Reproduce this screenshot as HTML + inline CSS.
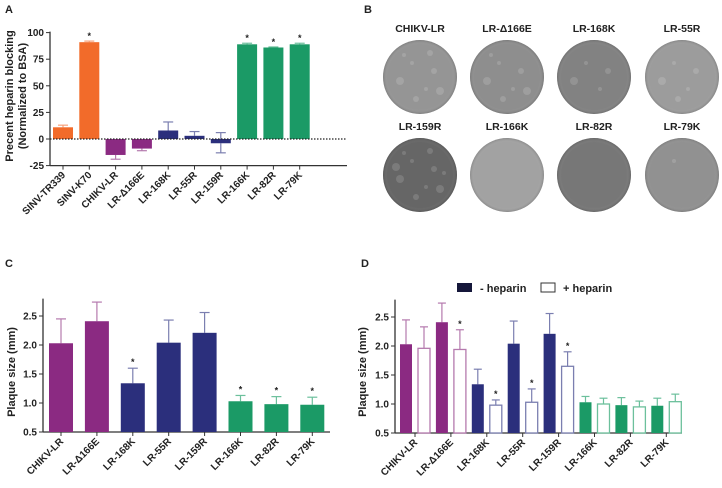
<!DOCTYPE html>
<html><head><meta charset="utf-8"><style>
body{margin:0;background:#fff;width:722px;height:483px;overflow:hidden;font-family:"Liberation Sans",sans-serif}
svg text{font-family:"Liberation Sans","DejaVu Sans",sans-serif;font-weight:bold;fill:#222}
</style></head><body>
<svg id="fig" width="722" height="483" viewBox="0 0 722 483">
<defs>
<radialGradient id="dish" cx="50%" cy="50%" r="50%"><stop offset="0.88" stop-color="#fff" stop-opacity="0"/><stop offset="1" stop-color="#000" stop-opacity="0.15"/></radialGradient>
</defs>
<text x="5" y="13" font-size="11">A</text>
<text x="364" y="13" font-size="11">B</text>
<text x="5" y="267" font-size="11">C</text>
<text x="361" y="267" font-size="11">D</text>
<g id="gA"></g>
<g id="gB"></g>
<g id="gC"></g>
<g id="gD"></g>
</svg>
<script>
const NS="http://www.w3.org/2000/svg";
const aCats=["SINV-TR339","SINV-K70","CHIKV-LR","LR-\u0394166E","LR-168K","LR-55R","LR-159R","LR-166K","LR-82R","LR-79K"];
const aVals=[11,91,-15,-9,8,3,-4,89,86,89];
const aErr=[2,1,4,2,8,4,9,1,0.5,1];
const aSig=[0,1,0,0,0,0,0,1,1,1];
const aTicks=[-25,0,25,50,75,100];
const cCats=["CHIKV-LR","LR-\u0394166E","LR-168K","LR-55R","LR-159R","LR-166K","LR-82R","LR-79K"];
const cVals=[2.03,2.41,1.34,2.04,2.21,1.03,0.98,0.97];
const cErr=[0.42,0.33,0.26,0.39,0.35,0.10,0.13,0.13];
const cSig=[0,0,1,0,0,1,1,1];
const dMinus=[2.03,2.41,1.34,2.04,2.21,1.03,0.98,0.97];
const dMinusErr=[0.42,0.33,0.26,0.39,0.35,0.10,0.13,0.13];
const dPlus=[1.96,1.94,0.98,1.03,1.65,1.00,0.95,1.04];
const dPlusErr=[0.37,0.34,0.09,0.23,0.25,0.10,0.10,0.13];
const dSig=[0,1,1,1,1,0,0,0];
const cTicks=[0.5,1.0,1.5,2.0,2.5];
const plaqueNames=["CHIKV-LR","LR-\u0394166E","LR-168K","LR-55R","LR-159R","LR-166K","LR-82R","LR-79K"];
const plaqueGray=["#959595","#8e8e8e","#828282","#9c9c9c","#666666","#a2a2a2","#777777","#919191"];
const plaqueSpot=[8,7,4,5,10,0,0,1];

const aColors=["#f26b2a","#f26b2a","#8b2a82","#8b2a82","#2b2f7c","#2b2f7c","#2b2f7c","#1b9a66","#1b9a66","#1b9a66"];
const cColors=["#8b2a82","#8b2a82","#2b2f7c","#2b2f7c","#2b2f7c","#1b9a66","#1b9a66","#1b9a66"];
function el(p,t,a){const e=document.createElementNS(NS,t);for(const k in a)e.setAttribute(k,a[k]);p.appendChild(e);return e;}
function lighten(c){return c==="#f26b2a"?"#f7a17a":c==="#8b2a82"?"#b57aae":c==="#2b2f7c"?"#7b7fb0":"#6cc09c";}

// Panel A
(function(){
 const g=document.getElementById("gA");
 const x0=50,x1=347,yS=v=>139-v*1.064;
 const xc=i=>63+i*26.3;
 el(g,"line",{x1:x0,y1:yS(100)-1,x2:x0,y2:yS(-25),stroke:"#333","stroke-width":1.3});
 el(g,"line",{x1:x0,y1:yS(-25),x2:x1,y2:yS(-25),stroke:"#333","stroke-width":1.3});
 aTicks.forEach(t=>{el(g,"line",{x1:x0-4,y1:yS(t),x2:x0,y2:yS(t),stroke:"#333"});
  const tx=el(g,"text",{x:x0-6,y:yS(t)+3.5,"font-size":10,"text-anchor":"end"});tx.textContent=t;
  
  });
 aVals.forEach((v,i)=>{
  const c=aColors[i],x=xc(i);
  const top=Math.min(yS(v),yS(0)),h=Math.abs(yS(v)-yS(0));
  const e=v>=0?v+aErr[i]:v-aErr[i];
  el(g,"line",{x1:x,y1:yS(v),x2:x,y2:yS(e),stroke:lighten(c),"stroke-width":1.2});
  el(g,"line",{x1:x-5,y1:yS(e),x2:x+5,y2:yS(e),stroke:lighten(c),"stroke-width":1.2});
  if(i===6){el(g,"line",{x1:x,y1:yS(0),x2:x,y2:yS(6),stroke:lighten(c),"stroke-width":1.2});el(g,"line",{x1:x-5,y1:yS(6),x2:x+5,y2:yS(6),stroke:lighten(c),"stroke-width":1.2});}
  const r=el(g,"rect",{x:x-10,y:top,width:20,height:h,fill:c});
  
  
  if(aSig[i]){const s=el(g,"text",{x:x,y:yS(v+aErr[i])-2,"font-size":9,"text-anchor":"middle"});s.textContent="*";}
  el(g,"line",{x1:x,y1:yS(-25),x2:x,y2:yS(-25)+4,stroke:"#333"});
  const l=el(g,"text",{x:x+3,y:yS(-25)+10,"font-size":10,"text-anchor":"end",transform:`rotate(-45 ${x+3} ${yS(-25)+10})`});l.textContent=aCats[i];
  
  
 });
 el(g,"line",{x1:x0,y1:yS(0),x2:x1,y2:yS(0),stroke:"#222","stroke-dasharray":"1.5,1.5","stroke-width":1.2});
 const yt=el(g,"text",{x:0,y:0,"font-size":11,"text-anchor":"middle",transform:"translate(13,96) rotate(-90)"});
 yt.innerHTML='<tspan x="0" dy="0">Precent heparin blocking</tspan><tspan x="0" dy="13">(Normalized to BSA)</tspan>';
 
 
})();

// Panel B
(function(){
 const g=document.getElementById("gB");
 const cx=[420,507,594,682],cy=[77,175],ly=[32,130];
 plaqueNames.forEach((n,i)=>{
  const x=cx[i%4],y=cy[Math.floor(i/4)];
  const t=el(g,"text",{x:x,y:ly[Math.floor(i/4)],"font-size":10.5,"text-anchor":"middle"});t.textContent=n;
  
  
  const c=el(g,"circle",{cx:x,cy:y,r:37,fill:plaqueGray[i]});
  
  
  const off=[[-8,-14],[14,-6],[-20,4],[6,12],[-4,22],[20,14],[-16,-22],[10,-24],[-24,-8],[24,-2]];
  for(let k=0;k<plaqueSpot[i];k++){el(g,"circle",{cx:x+off[k][0],cy:y+off[k][1],r:2+(k%3),fill:"#fff","fill-opacity":0.14});}
  el(g,"circle",{cx:x,cy:y,r:37,fill:"url(#dish)"});
 });
})();

function barAxes(g,x0,x1,yS,cats,xc){
 el(g,"line",{x1:x0,y1:yS(2.8),x2:x0,y2:yS(0.5),stroke:"#333","stroke-width":1.3});
 el(g,"line",{x1:x0,y1:yS(0.5),x2:x1,y2:yS(0.5),stroke:"#333","stroke-width":1.3});
 cTicks.forEach(t=>{el(g,"line",{x1:x0-4,y1:yS(t),x2:x0,y2:yS(t),stroke:"#333"});
  const tx=el(g,"text",{x:x0-6,y:yS(t)+3.5,"font-size":10,"text-anchor":"end"});tx.textContent=t.toFixed(1);
  
  });
 cats.forEach((n,i)=>{const x=xc(i);
  el(g,"line",{x1:x,y1:yS(0.5),x2:x,y2:yS(0.5)+4,stroke:"#333"});
  const l=el(g,"text",{x:x+3,y:yS(0.5)+10,"font-size":10,"text-anchor":"end",transform:`rotate(-45 ${x+3} ${yS(0.5)+10})`});l.textContent=n;
  
  });
}
function errBar(g,x,v,e,yS,c,w){
 el(g,"line",{x1:x,y1:yS(v),x2:x,y2:yS(v+e),stroke:c,"stroke-width":1.2});
 el(g,"line",{x1:x-w,y1:yS(v+e),x2:x+w,y2:yS(v+e),stroke:c,"stroke-width":1.2});
}

// Panel C
(function(){
 const g=document.getElementById("gC");
 const yS=v=>432-(v-0.5)*58,xc=i=>61+i*35.9;
 barAxes(g,43,330,yS,cCats,xc);
 cVals.forEach((v,i)=>{const x=xc(i),c=cColors[i];
  errBar(g,x,v,cErr[i],yS,lighten(c),5);
  const r=el(g,"rect",{x:x-12,y:yS(v),width:24,height:yS(0.5)-yS(v),fill:c});
  
  
  if(cSig[i]){const s=el(g,"text",{x:x,y:yS(v+cErr[i])-3,"font-size":9,"text-anchor":"middle"});s.textContent="*";}
 });
 const yt=el(g,"text",{x:0,y:0,"font-size":11,"text-anchor":"middle",transform:"translate(15,372) rotate(-90)"});yt.textContent="Plaque size (mm)";
 
 
})();

// Panel D
(function(){
 const g=document.getElementById("gD");
 const yS=v=>433-(v-0.5)*58,xc=i=>415+i*35.9;
 barAxes(g,395,682,yS,cCats,xc);
 dMinus.forEach((v,i)=>{const c=cColors[i];
  const xf=xc(i)-9,xo=xc(i)+9;
  errBar(g,xf,v,dMinusErr[i],yS,lighten(c),4);
  const r=el(g,"rect",{x:xf-6,y:yS(v),width:12,height:yS(0.5)-yS(v),fill:c});
  
  
  const p=dPlus[i];
  errBar(g,xo,p,dPlusErr[i],yS,lighten(c),4);
  const r2=el(g,"rect",{x:xo-6,y:yS(p),width:12,height:yS(0.5)-yS(p),fill:"#fff",stroke:lighten(c),"stroke-width":1.3});
  
  
  if(dSig[i]){const s=el(g,"text",{x:xo,y:yS(p+dPlusErr[i])-3,"font-size":9,"text-anchor":"middle"});s.textContent="*";}
 });
 const yt=el(g,"text",{x:0,y:0,"font-size":11,"text-anchor":"middle",transform:"translate(366,372) rotate(-90)"});yt.textContent="Plaque size (mm)";
 
 
 const lg=el(g,"g",{});
 
 
 el(lg,"rect",{x:457,y:283,width:15,height:9,fill:"#15173a"});
 const t1=el(lg,"text",{x:480,y:292,"font-size":11});t1.textContent="- heparin";
 el(lg,"rect",{x:541,y:283,width:14,height:9,fill:"#fff",stroke:"#333"});
 const t2=el(lg,"text",{x:563,y:292,"font-size":11});t2.textContent="+ heparin";
})();
</script>
</body></html>
